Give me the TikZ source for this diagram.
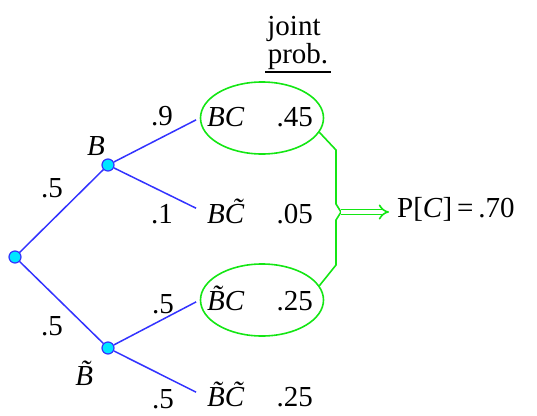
\documentclass[tikz,border=0pt]{standalone}
\usepackage{fontspec}
\setmainfont{Liberation Serif}
\usetikzlibrary{shapes.geometric,arrows.meta}
\definecolor{treeblue}{RGB}{51,51,255}
\definecolor{jointgreen}{RGB}{20,230,20}
\definecolor{dotcyan}{RGB}{0,230,255}

\begin{document}
\begin{tikzpicture}[x=1pt,y=-1pt,
	every node/.style={inner sep=0pt,font=\fontsize{29}{34}\selectfont},
	dot/.style={circle,draw=treeblue,fill=dotcyan,minimum size=12pt,line width=1.2pt},
	branch/.style={treeblue,line width=1.5pt,shorten >=4pt},
	oval/.style={ellipse,minimum width=123pt,minimum height=72pt,line width=1.6pt},
	jointline/.style={jointgreen,line width=1.6pt}]
				\useasboundingbox (0,0) rectangle (537,415);
				% tree
				\node [dot] (root) at (15,257) {};
				\node [dot] (b) at (108,165) {};
				\node [dot] (bt) at (108,348) {};
				\node [oval,draw=jointgreen] (o1) at (262,118) {};
				\node [oval] (o2) at (262,210) {};
				\node [oval,draw=jointgreen] (o3) at (262,300) {};
				\node [oval] (o4) at (262,394) {};
				\draw [branch,shorten >=0pt] (root) -- (b);
				\draw [branch,shorten >=0pt] (root) -- (bt);
				\draw [branch] (b) -- (o1.west);
				\draw [branch] (b) -- (o2.west);
				\draw [branch] (bt) -- (o3.west);
				\draw [branch] (bt) -- (o4.west);
				% branch labels
				\node (pb) at (52,188) {.5};
				\node (pbt) at (52,326) {.5};
				\node (pcb) at (162,116) {.9};
				\node (pctb) at (162,214) {.1};
				\node (pcbt) at (163,304) {.5};
				\node (pctbt) at (163,399) {.5};
				\node [anchor=base] (lb) at (96,155) {\textit{B}};
				\node [anchor=base] (lbt) at (90,385) {\textit{\~B}};
				% outcomes
				\node [anchor=base west] (bc) at (207,126) {\textit{BC}};
				\node [anchor=base east] (bcp) at (313,126) {.45};
				\node [anchor=base west] (bct) at (207,223) {\textit{B\~C}};
				\node [anchor=base east] (bctp) at (313,223) {.05};
				\node [anchor=base west] (btc) at (207,310) {\textit{\~BC}};
				\node [anchor=base east] (btcp) at (313,310) {.25};
				\node [anchor=base west] (btct) at (207,406) {\textit{\~B\~C}};
				\node [anchor=base east] (btctp) at (313,406) {.25};
				% joint prob. heading
				\node [anchor=base] (joint) at (294,35) {joint};
				\node [anchor=base] (prob) at (298,63) {prob.};
				\draw [line width=1.8pt] (265,72) -- (331,72);
				% sum of the circled outcomes
				\coordinate (k1) at (336,150);
				\coordinate (k2) at (336,204);
				\coordinate (k3) at (336,220);
				\coordinate (k4) at (336,265);
				\coordinate (mid) at (341,212);
				\node [anchor=base west] (pc) at (397,217) {P[\textit{C}]\,=\,.70};
				\draw [jointline] (o1.-14) -- (k1) -- (k2) -- (mid);
				\draw [jointline] (o3.14) -- (k4) -- (k3) -- (mid);
				\draw [jointline,double,double distance=3.5pt,-{Implies},shorten >=8pt] (mid) -- (pc.west |- mid);
			\end{tikzpicture}
\end{document}
